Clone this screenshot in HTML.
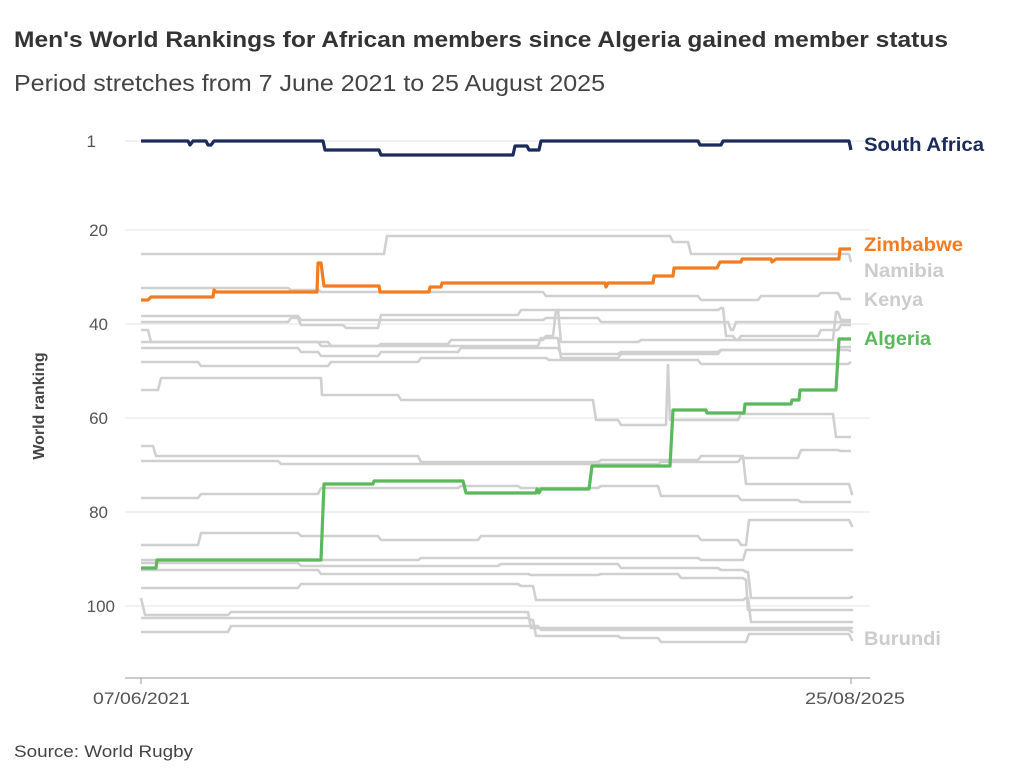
<!DOCTYPE html>
<html><head><meta charset="utf-8"><style>
body{margin:0;background:#fff;width:1023px;height:775px;overflow:hidden;font-family:"Liberation Sans",sans-serif}
svg{position:absolute;left:0;top:0}
</style></head><body>
<svg id="s" width="1023" height="775" viewBox="0 0 1023 775">
<text x="14" y="47" font-size="22" font-weight="bold" fill="#333" textLength="934" lengthAdjust="spacingAndGlyphs">Men's World Rankings for African members since Algeria gained member status</text>
<text x="14" y="91" font-size="23" fill="#444" textLength="591" lengthAdjust="spacingAndGlyphs">Period stretches from 7 June 2021 to 25 August 2025</text>
<g stroke="#e6e6e6" stroke-width="1">
<line x1="125" x2="870" y1="141" y2="141"/><line x1="125" x2="870" y1="230" y2="230"/><line x1="125" x2="870" y1="324" y2="324"/><line x1="125" x2="870" y1="418" y2="418"/><line x1="125" x2="870" y1="512" y2="512"/><line x1="125" x2="870" y1="606" y2="606"/>
</g>
<line x1="125" x2="870" y1="678" y2="678" stroke="#999" stroke-width="1"/>
<line x1="141" x2="141" y1="678" y2="684" stroke="#999"/><line x1="851" x2="851" y1="678" y2="684" stroke="#999"/>
<g font-size="17" fill="#555" text-anchor="end">
<text x="96" y="147">1</text><text x="108" y="236">20</text><text x="108" y="330">40</text><text x="108" y="424">60</text><text x="108" y="518">80</text><text x="115" y="612">100</text>
</g>
<text x="93" y="704" font-size="17" fill="#555" textLength="97" lengthAdjust="spacingAndGlyphs">07/06/2021</text>
<text x="805" y="704" font-size="17" fill="#555" textLength="100" lengthAdjust="spacingAndGlyphs">25/08/2025</text>
<text transform="translate(44,406) rotate(-90)" font-size="16" font-weight="bold" fill="#444" text-anchor="middle">World ranking</text>
<text x="14" y="757" font-size="17" fill="#444" textLength="179" lengthAdjust="spacingAndGlyphs">Source: World Rugby</text>
<g id="lines" fill="none" stroke-linejoin="round"></g>
<g font-size="19" font-weight="bold">
<text x="864" y="151" fill="#1b2b5b" textLength="120" lengthAdjust="spacingAndGlyphs">South Africa</text>
<text x="864" y="251" fill="#f47c20" textLength="99" lengthAdjust="spacingAndGlyphs">Zimbabwe</text>
<text x="864" y="277" fill="#ccc" textLength="80" lengthAdjust="spacingAndGlyphs">Namibia</text>
<text x="864" y="306" fill="#ccc" textLength="59" lengthAdjust="spacingAndGlyphs">Kenya</text>
<text x="864" y="345" fill="#5cb85c" textLength="67" lengthAdjust="spacingAndGlyphs">Algeria</text>
<text x="864" y="645" fill="#ccc" textLength="77" lengthAdjust="spacingAndGlyphs">Burundi</text>
</g>
</svg>
<script>
function P(a){var d="M"+a[0][0]+","+a[0][1];for(var i=1;i<a.length;i++){var x=a[i][0],y=a[i][1],py=a[i-1][1];var px=a[i-1][0];if(x-px>4){d+=" L"+(x-2)+","+py+" L"+(x+1)+","+y;}else d+=" L"+x+","+y;}d+=" L851,"+a[a.length-1][1];return d}
var greys=[
[[141,254],[380,254],[386,236],[660,236],[672,242],[690,254],[848,254],[851,262]],
[[141,288],[290,290],[320,292],[545,296],[700,300],[760,296],[820,293],[840,299]],
[[141,316],[300,320],[380,320],[545,318],[600,322],[720,322],[730,330],[735,322]],
[[141,322],[280,322],[290,318],[300,325],[345,328],[380,315],[520,310],[560,310],[720,308],[725,336],[735,340],[830,340],[835,312],[840,320]],
[[141,330],[150,342],[300,342],[320,346],[380,344],[450,340],[545,336],[555,310],[560,342],[640,340],[740,336],[820,330],[840,325]],
[[141,342],[300,342],[330,346],[540,338],[560,358],[620,354],[720,350],[840,347]],
[[141,348],[200,348],[300,352],[320,356],[380,352],[460,348],[560,354],[620,352],[720,350],[850,351]],
[[141,362],[200,366],[300,366],[330,362],[420,358],[548,360],[560,360],[700,364],[850,362]],
[[141,390],[160,378],[320,378],[322,395],[400,400],[590,400],[595,420],[620,425],[665,425],[668,365],[670,420],[740,414],[830,414],[835,437],[840,437]],
[[141,446],[155,456],[380,456],[420,462],[530,462],[600,460],[700,456],[740,456],[745,484],[851,494]],
[[141,461],[280,464],[540,464],[660,462],[740,458],[800,450],[840,451]],
[[141,498],[200,494],[320,488],[460,486],[520,488],[600,486],[660,496],[740,500],[800,502]],
[[141,545],[200,533],[300,536],[380,540],[480,536],[620,536],[700,540],[740,545],[748,520],[851,526]],
[[141,560],[320,560],[420,558],[600,558],[700,560],[740,560],[745,550],[851,550]],
[[141,563],[300,566],[500,564],[620,568],[720,570],[745,572],[750,598],[851,597]],
[[141,570],[320,574],[530,575],[600,574],[680,578],[745,580],[748,610],[851,610]],
[[141,588],[300,584],[520,586],[535,600],[700,600],[745,598],[750,622],[851,622]],
[[141,598],[145,615],[230,612],[520,612],[530,628],[851,628]],
[[141,618],[230,618],[530,620],[535,636],[620,638],[660,642],[740,642],[748,634],[851,640]],
[[141,632],[230,626],[530,626],[540,630],[851,632]]
];
var g=document.getElementById("lines"),h="";
greys.forEach(function(a){h+='<path d="'+P(a)+'" stroke="#d0d0d0" stroke-width="2.6"/>';});
var sa=[[141,141],[187,141],[190,145],[193,141],[205,141],[208,145],[213,141],[322,141],[325,150],[378,150],[381,155],[512,155],[515,146],[526,146],[529,150],[538,150],[541,141],[697,141],[700,145],[720,145],[723,141],[848,141],[851,150]];
var zw=[[141,300],[150,297],[212,297],[214,290],[216,292],[316,292],[318,263],[321,263],[324,286],[378,286],[380,292],[428,292],[430,287],[440,287],[442,283],[604,283],[606,287],[608,283],[652,283],[654,276],[672,276],[674,268],[716,268],[720,262],[740,262],[742,259],[770,259],[772,262],[776,259],[838,259],[840,249]];
var al=[[141,568],[155,568],[157,560],[320,560],[324,484],[372,484],[374,481],[455,481],[465,493],[535,493],[537,489],[539,493],[541,489],[588,489],[592,466],[667,466],[672,410],[705,410],[707,413],[743,413],[745,404],[790,404],[792,400],[798,400],[800,390],[833,390],[838,339]];
h+='<path d="'+P(zw)+'" stroke="#f47c20" stroke-width="3.2"/>';
h+='<path d="'+P(al)+'" stroke="#5cb85c" stroke-width="3.2"/>';
h+='<path d="'+P(sa)+'" stroke="#1b2b5b" stroke-width="3.2"/>';
g.innerHTML=h;
</script>
</body></html>
